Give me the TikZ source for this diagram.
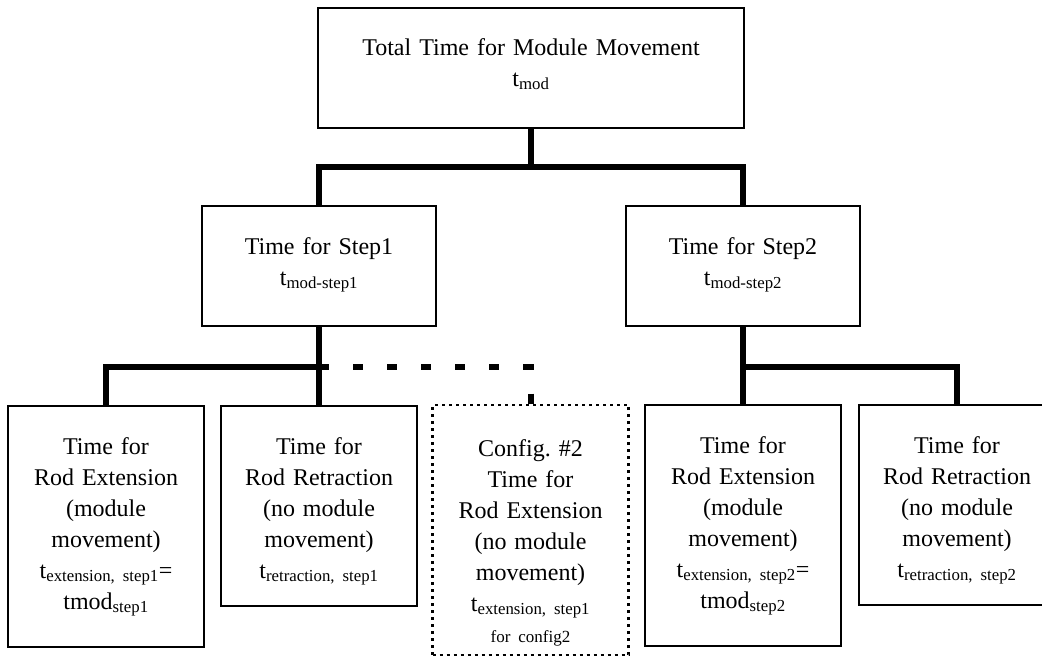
\documentclass[tikz,border=0pt]{standalone}
\usepackage{fontspec}
\setmainfont{Liberation Serif}

\begin{document}
\begin{tikzpicture}
      [x=1pt, y=-1pt,
       every node/.style={draw, line width=2.2pt, inner sep=0pt, align=center,
         font=\fontsize{24}{31}\selectfont\frenchspacing},
       upper/.style={text width=234pt, text height=48pt, text depth=72pt},
       lower/.style={text width=196pt, text height=48pt},
       tree/.style={line width=6pt},
       link/.style={line width=6pt, dash pattern=on 10pt off 24pt}]
      \useasboundingbox (0,0) rectangle (1042,667);

      \node [text width=426pt, text height=47pt, text depth=73pt] (total) at (531,68)
        {Total Time for Module Movement\\ t\textsubscript{mod}};
      \node [upper] (step1) at (319,266) {Time for Step1\\ t\textsubscript{mod-step1}};
      \node [upper] (step2) at (743,266) {Time for Step2\\ t\textsubscript{mod-step2}};

      \node [lower, text depth=193pt] (ext1) at (106,526.5)
        {Time for\\ Rod Extension\\ (module\\ movement)\\
         t\textsubscript{extension, step1}=\\ tmod\textsubscript{step1}};
      \node [lower, text depth=152pt] (ret1) at (319,506)
        {Time for\\ Rod Retraction\\ (no module\\ movement)\\ t\textsubscript{retraction, step1}};
      \node [lower, text height=51pt, text depth=199pt, line width=2.5pt,
             dash pattern=on 3pt off 4pt] (cfg) at (530.5,530)
        {Config. \#2\\ Time for\\ Rod Extension\\ (no module\\ movement)\\
         t\textsubscript{extension, step1}\\ {\fontsize{17}{17}\selectfont for config2}};
      \node [lower, text depth=193pt] (ext2) at (743,525.5)
        {Time for\\ Rod Extension\\ (module\\ movement)\\
         t\textsubscript{extension, step2}=\\ tmod\textsubscript{step2}};
      \node [lower, text depth=152pt] (ret2) at (957,505)
        {Time for\\ Rod Retraction\\ (no module\\ movement)\\ t\textsubscript{retraction, step2}};

      % junctions of the tree
      \coordinate (j1) at (531,167);
      \coordinate (j2) at (319,367);
      \coordinate (j3) at (743,367);

      \draw [tree] (total) -- (j1);
      \draw [tree] (step1.north) |- (j1) -| (step2.north);
      \draw [tree] (step1.south) -- (ret1.north);
      \draw [tree] (j2) -| (ext1.north);
      \draw [link] (j2) -| (cfg.north);
      \draw [tree] (step2.south) -- (ext2.north);
      \draw [tree] (j3) -| (ret2.north);
    \end{tikzpicture}
\end{document}
